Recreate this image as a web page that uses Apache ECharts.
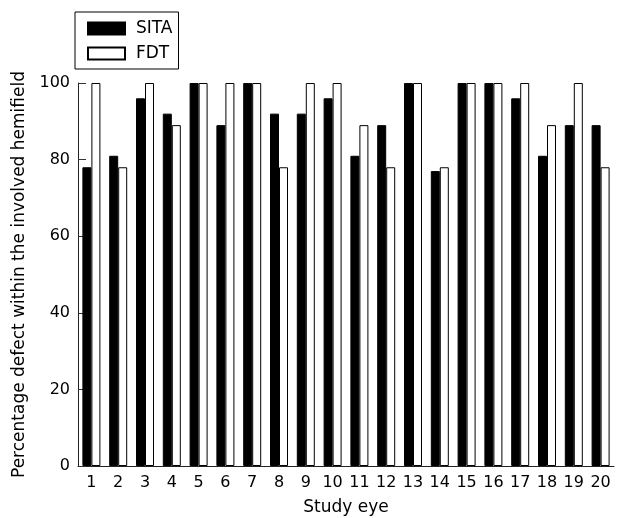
<!DOCTYPE html>
<html>
<head>
<meta charset="utf-8">
<script src="https://cdn.jsdelivr.net/npm/echarts@6/dist/echarts.min.js"></script>
<style>
  html, body { margin: 0; padding: 0; background: #fff; }
  #chart { width: 617px; height: 518px; }
</style>
</head>
<body>
<div id="chart"></div>
<script>
  // study eyes 1..20
  var eyes = ['1','2','3','4','5','6','7','8','9','10','11','12','13','14','15','16','17','18','19','20'];
  var sita = [78, 81, 96, 92, 100, 89, 100, 92, 92, 96, 81, 89, 100, 77, 100, 100, 96, 81, 89, 89];
  var fdt  = [100, 78, 100, 89, 100, 100, 100, 78, 100, 100, 89, 78, 100, 78, 100, 100, 100, 89, 100, 78];
  var yTicks = [0, 20, 40, 60, 80, 100];

  var font = 'DejaVu Sans';
  var chart = echarts.init(document.getElementById('chart'));

  var option = {
    animation: false,
    textStyle: { fontFamily: font, color: '#000' },
    legend: {
      left: 75,
      top: 12,
      orient: 'vertical',
      icon: 'rect',
      itemWidth: 37,
      itemHeight: 12,
      itemGap: 8,
      padding: [8, 6, 7, 12],
      borderColor: '#000',
      borderWidth: 1,
      textStyle: { fontFamily: font, fontSize: 17, color: '#000', padding: [0, 0, 0, 6] },
      data: ['SITA', 'FDT']
    },
    grid: { left: 78, right: 3, top: 83, bottom: 52, outerBoundsMode: 'none', containLabel: false },
    xAxis: {
      type: 'category',
      data: eyes,
      name: 'Study eye',
      nameLocation: 'middle',
      nameGap: 33,
      nameTextStyle: { fontSize: 17, color: '#000' },
      axisLine: { lineStyle: { color: '#222', width: 1 } },
      axisTick: { inside: true, length: 14, lineStyle: { color: '#333' } },
      axisLabel: { fontSize: 16, color: '#000', margin: 9, interval: 0 }
    },
    yAxis: {
      type: 'value',
      min: yTicks[0],
      max: yTicks[yTicks.length - 1],
      interval: 20,
      name: 'Percentage defect within the involved hemifield',
      nameLocation: 'middle',
      nameGap: 47,
      nameTextStyle: { fontSize: 17, color: '#000' },
      splitLine: { show: false },
      axisLine: { show: true, lineStyle: { color: '#222', width: 1 } },
      axisTick: { show: true, inside: true, length: 8, lineStyle: { color: '#333' } },
      axisLabel: { fontSize: 16, color: '#000', margin: 8 }
    },
    series: [
      {
        name: 'SITA',
        type: 'bar',
        data: sita,
        barWidth: 9,
        barGap: '0%',
        itemStyle: { color: '#000', borderColor: '#000', borderWidth: 1 }
      },
      {
        name: 'FDT',
        type: 'bar',
        data: fdt,
        barWidth: 9,
        barGap: '0%',
        itemStyle: { color: '#fff', borderColor: '#000', borderWidth: 1 }
      }
    ]
  };
  chart.setOption(option);
</script>
</body>
</html>
